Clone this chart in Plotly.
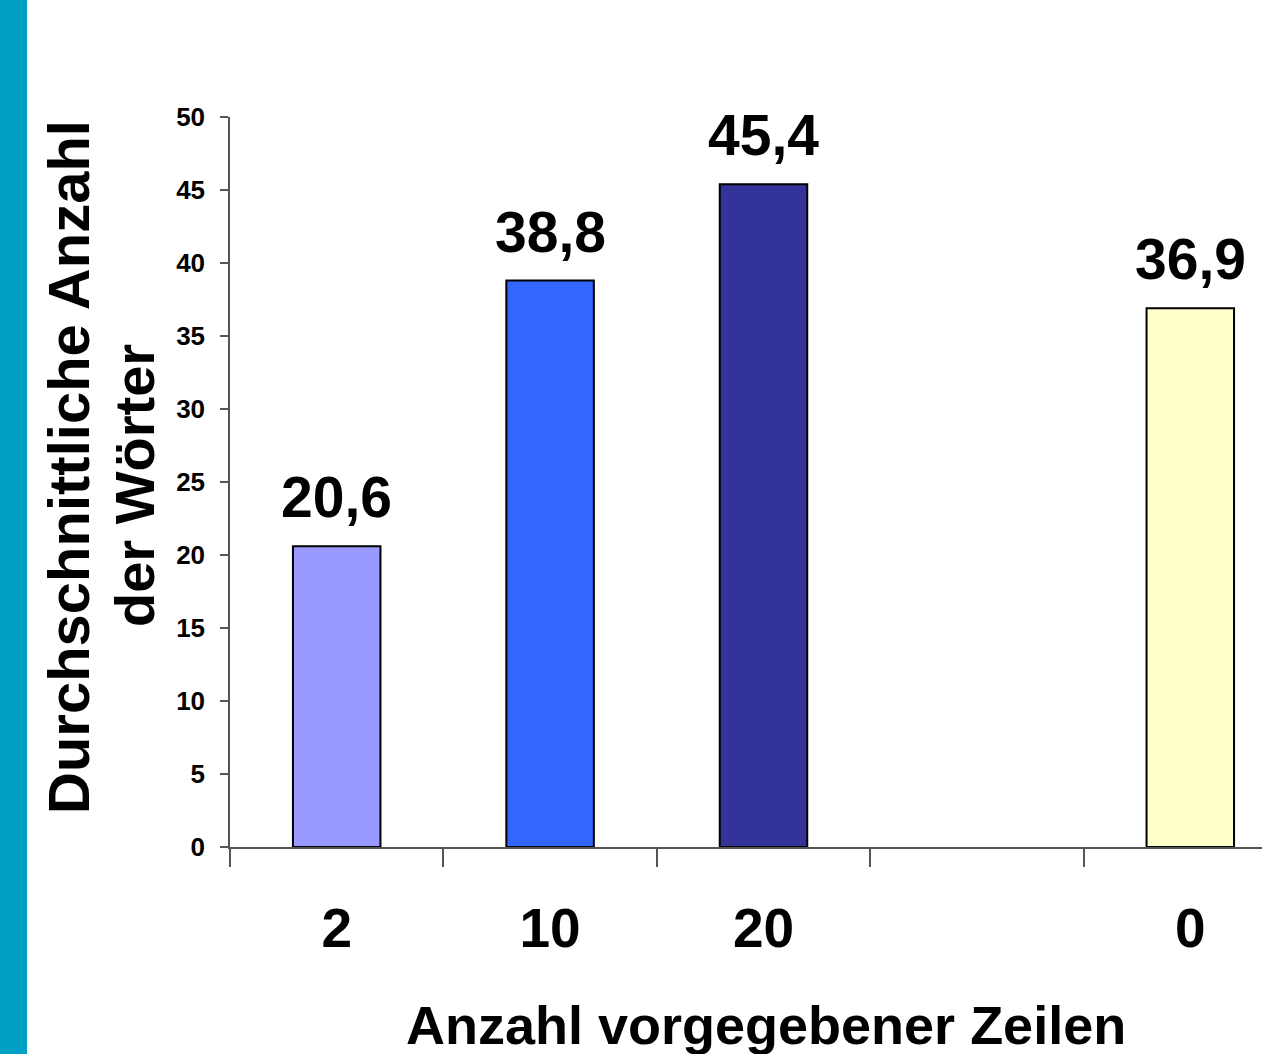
import plotly.graph_objects as go

categories = ["2", "10", "20", " ", "0"]
values = [20.6, 38.8, 45.4, None, 36.9]
labels = ["20,6", "38,8", "45,4", "", "36,9"]
colors = ["#9999FF", "#3366FF", "#333399", "#FFFFFF", "#FFFFCC"]
y_ticks = [0, 5, 10, 15, 20, 25, 30, 35, 40, 45, 50]
y_title = ["Durchschnittliche Anzahl", "der Wörter"]
x_title = "Anzahl vorgegebener Zeilen"

W, H = 1262, 1054
L, R, T, B = 230, 0, 117, 207
PW, PH = W - L - R, H - T - B
FONT = "Liberation Sans, Arial, sans-serif"

def px_x(p):
    return (p - L) / PW

def px_y(p):
    return (H - B - p) / PH

def bold(size):
    return dict(family=FONT, size=size, color="black", weight="bold")

fig = go.Figure()
fig.add_trace(go.Bar(
    x=categories, y=values, width=0.41,
    marker=dict(color=colors, line=dict(color="black", width=2)),
    hoverinfo="skip",
))

ann = []
for i, (v, t) in enumerate(zip(values, labels)):
    if v is None:
        continue
    ann.append(dict(x=i, y=v, xref="x", yref="y", text=t, showarrow=False,
                    yanchor="bottom", yshift=15, font=bold(57)))
ann.append(dict(x=px_x(68), y=px_y(467), xref="paper", yref="paper", text=y_title[0],
                textangle=-90, showarrow=False, xanchor="center", yanchor="middle",
                font=bold(58)))
ann.append(dict(x=px_x(134), y=px_y(486), xref="paper", yref="paper", text=y_title[1],
                textangle=-90, showarrow=False, xanchor="center", yanchor="middle",
                font=bold(56)))
ann.append(dict(x=px_x(766), y=px_y(1025), xref="paper", yref="paper", text=x_title,
                showarrow=False, xanchor="center", yanchor="middle",
                font=bold(54)))

fig.update_layout(
    width=W, height=H,
    margin=dict(l=L, r=R, t=T, b=B, pad=0),
    paper_bgcolor="white", plot_bgcolor="white",
    showlegend=False,
    annotations=ann,
    shapes=[dict(type="rect", xref="paper", yref="paper",
                 x0=px_x(0), x1=px_x(27), y0=px_y(H), y1=px_y(0),
                 fillcolor="#00A0C6", line=dict(width=0), layer="above")],
    xaxis=dict(
        type="category", categoryorder="array", categoryarray=categories,
        range=[-0.5, -0.5 + PW / 213.4],
        showline=True, linecolor="#555555", linewidth=1.5,
        ticks="outside", tickson="boundaries", ticklen=18, tickwidth=1.5, tickcolor="#555555",
        tickfont=bold(55),
        ticklabelstandoff=32,
        showgrid=False, zeroline=False,
    ),
    yaxis=dict(
        range=[0, 50], tickvals=y_ticks,
        showline=True, linecolor="#555555", linewidth=1.5,
        ticks="outside", ticklen=8, tickwidth=1.5, tickcolor="#555555",
        tickfont=bold(26),
        ticklabelstandoff=10,
        showgrid=False, zeroline=False,
    ),
)
fig.update_traces(cliponaxis=False)
fig.write_html("out.html", config={"displayModeBar": False},
               post_script="document.body.style.margin='0';document.body.style.overflow='hidden';")
